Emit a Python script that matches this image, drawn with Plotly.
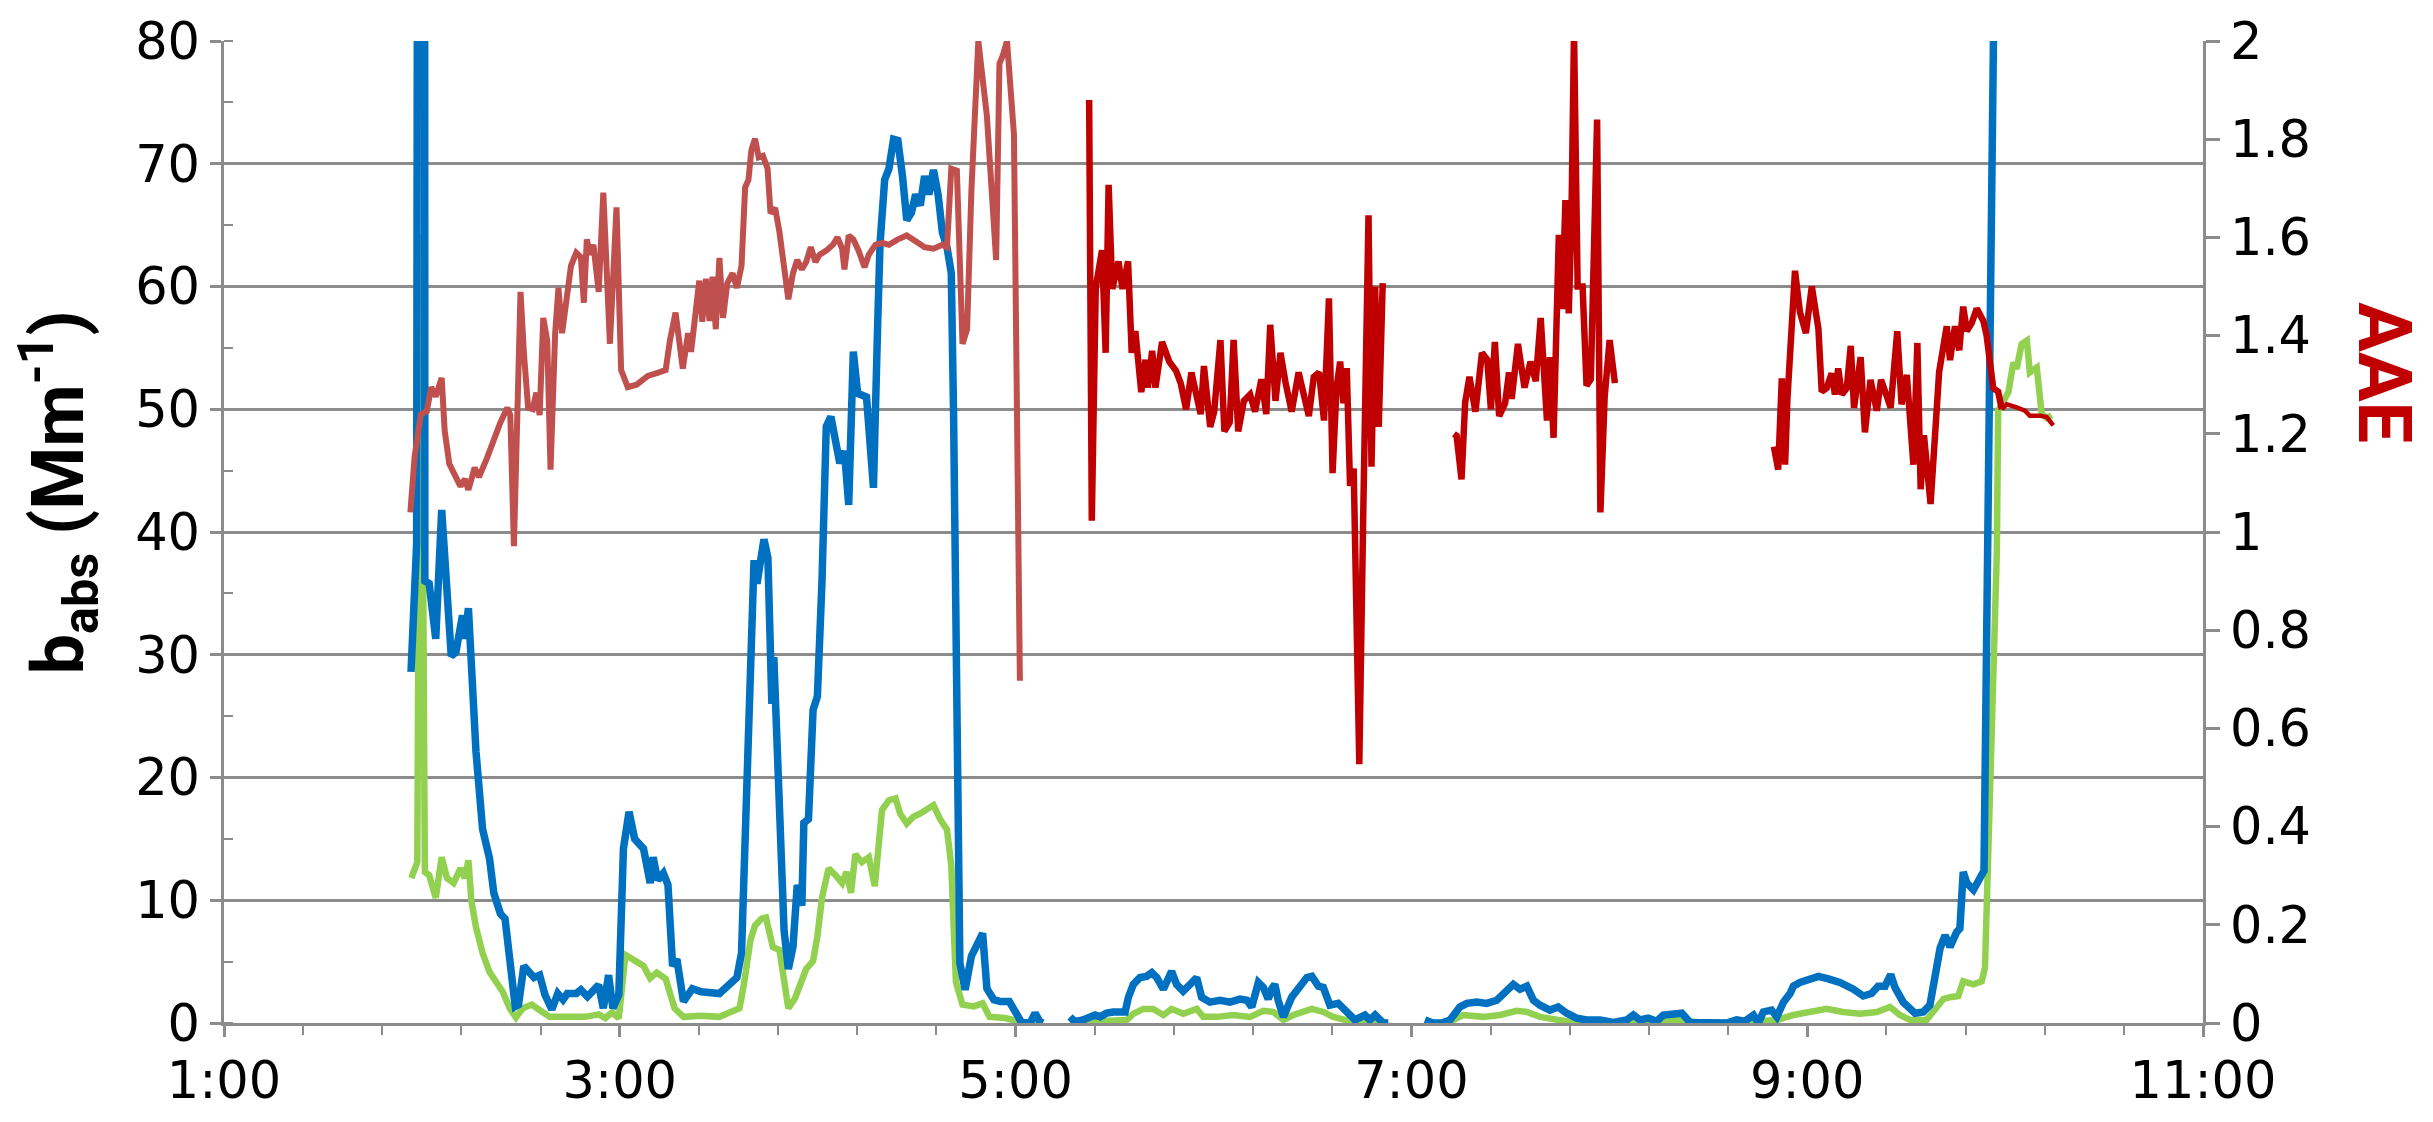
import plotly.graph_objects as go

# Clock time in minutes after midnight; None marks a break in the record.
blue_t = [116.7, 118.4, 118.8, 120.8, 120.9, 122.2, 124.2, 126.0, 128.9, 130.3, 132.3, 133.0, 134.1, 135.0,
          136.4, 138.4, 140.5, 141.8, 143.8, 145.2, 147.2, 148.3, 149.3, 150.9, 152.7, 154.0, 155.7, 157.3,
          159.4, 161.2, 162.8, 164.1, 166.8, 168.2, 170.2, 172.0, 173.6, 175.0, 176.6, 177.9, 179.7, 181.1,
          182.8, 184.5, 187.2, 189.2, 190.1, 191.5, 193.2, 194.6, 196.0, 197.3, 199.3, 202.0, 204.7, 210.2,
          212.2, 214.2, 215.5, 216.9, 218.3, 219.6, 220.7, 221.6, 222.5, 223.7, 224.9, 226.1, 226.7, 228.4,
          229.8, 231.1, 232.5, 233.8, 235.2, 235.8, 237.2, 238.6, 239.9, 241.3, 242.6, 244.0, 246.7, 248.1,
          249.4, 250.8, 252.1, 254.8, 256.9, 258.2, 258.9, 260.3, 261.6, 263.0, 264.3, 265.7, 267.0, 268.4,
          269.7, 271.1, 272.4, 273.7, 275.1, 276.5, 277.8, 279.2, 280.5, 281.2, 281.9, 282.5, 283.1, 284.7,
          286.6, 290.0, 291.3, 293.4, 295.4, 298.1, 300.1, 301.8, 304.4, 305.9, 307.4, 308.3, None,
          316.5, 318.0, 320.4, 322.6, 324.1, 325.6, 327.6, 329.6, 333.2, 334.2, 335.7, 337.7, 339.7, 341.3,
          342.8, 344.8, 347.3, 348.8, 350.8, 352.9, 354.9, 356.4, 358.9, 362.0, 365.0, 368.0, 370.1, 371.6,
          373.6, 375.1, 376.6, 377.6, 378.6, 379.6, 381.2, 383.7, 386.2, 388.3, 389.8, 391.8, 393.3, 395.3,
          397.8, 400.4, 402.9, 405.9, 407.4, 409.0, 411.5, 413.0, None,
          424.1, 426.6, 429.2, 431.7, 434.7, 436.8, 439.8, 442.8, 445.9, 448.9, 450.9, 452.9, 455.0, 457.0,
          459.0, 462.0, 464.5, 467.1, 470.1, 473.1, 477.2, 481.2, 485.3, 487.3, 489.3, 491.8, 494.4, 496.4,
          499.4, 502.0, 504.5, 507.5, 512.6, 515.6, 518.6, 521.1, 523.7, 525.2, 526.7, 529.2, 530.8, 532.8,
          534.8, 535.8, 537.8, 540.8, 543.4, 546.4, 549.9, 554.0, 557.0, 559.5, 561.5, 563.6, 565.3, 566.6,
          569.1, 572.7, 575.2, 577.2, 578.2, 580.3, 581.8, 583.3, 585.3, 586.3, 587.3, 588.4, 590.4, 592.4,
          593.6, 597.1]
blue_v = [28.6, 39.0, 120.0, 120.0, 36.0, 35.8, 31.3, 41.8, 29.9, 30.2, 33.2, 31.3, 33.8, 28.7,
          22.1, 15.8, 13.4, 10.6, 8.9, 8.5, 3.9, 1.35, 1.5, 4.65, 4.1, 3.7, 3.9, 2.3,
          1.1, 2.4, 1.9, 2.4, 2.4, 2.7, 2.15, 2.7, 3.1, 1.2, 3.9, 1.2, 2.3, 14.2,
          17.2, 15.0, 14.2, 11.4, 13.5, 11.65, 12.2, 11.25, 4.65, 5.2, 1.75, 2.8, 2.55, 2.4,
          2.9, 3.35, 3.7, 5.7, 18.1, 30.6, 37.7, 35.8, 37.6, 39.4, 37.9, 26.0, 29.8, 18.1,
          7.55, 4.4, 6.2, 11.25, 9.55, 16.3, 16.6, 25.5, 26.6, 36.0, 48.6, 49.4, 45.6, 46.6,
          42.2, 54.7, 51.3, 51.0, 43.6, 57.1, 63.5, 68.7, 69.6, 72.0, 71.9, 69.0, 65.4, 66.0,
          67.5, 66.6, 69.0, 67.5, 69.5, 67.5, 64.4, 63.2, 61.1, 49.5, 35.3, 14.8, 4.9, 2.7,
          5.45, 7.3, 2.8, 1.9, 1.75, 1.75, 0.7, 0.05, 0.0, 0.8, 0.1, 0.0, None,
          0.5, 0.1, 0.25, 0.4, 0.65, 0.5, 0.8, 0.9, 0.9, 2.1, 3.15, 3.7, 3.8, 4.1,
          3.7, 2.75, 4.2, 3.15, 2.6, 3.15, 3.7, 2.1, 1.7, 1.85, 1.7, 1.95, 1.85, 1.3,
          3.3, 2.9, 1.95, 2.75, 3.15, 1.85, 0.5, 2.1, 3.0, 3.7, 3.8, 3.0, 2.9, 1.45,
          1.6, 0.8, 0.25, 0.65, 0.25, 0.65, 0.0, 0.0, None,
          0.25, 0.0, 0.0, 0.25, 1.3, 1.6, 1.7, 1.6, 1.85, 2.6, 3.15, 2.75, 3.0, 1.85,
          1.45, 1.05, 1.3, 0.8, 0.4, 0.25, 0.25, 0.05, 0.25, 0.65, 0.25, 0.4, 0.15, 0.65,
          0.8, 0.8, 0.05, 0.05, 0.0, 0.0, 0.25, 0.15, 0.65, 0.0, 0.9, 1.05, 0.5, 1.7,
          2.4, 3.0, 3.3, 3.5, 3.8, 3.6, 3.3, 2.75, 2.2, 2.4, 3.0, 3.0, 3.95, 2.9,
          1.7, 0.8, 0.9, 1.45, 3.15, 6.1, 7.15, 6.2, 7.4, 7.7, 12.3, 11.4, 10.85, 11.65,
          12.4, 95.0]

green_t = [116.8, 118.6, 119.5, 119.8, 120.9, 122.2, 124.2, 126.0, 127.6, 129.6, 131.7, 133.0, 134.1, 135.0,
           136.4, 138.4, 140.5, 142.5, 144.5, 146.6, 148.5, 150.6, 153.3, 156.0, 158.7, 164.1, 169.6, 173.6,
           175.6, 177.6, 179.7, 181.7, 184.5, 187.2, 189.2, 191.2, 193.9, 196.6, 199.3, 204.7, 210.2, 212.9,
           216.3, 217.6, 219.6, 221.0, 223.0, 224.3, 225.7, 226.4, 228.4, 229.8, 231.1, 233.1, 234.5, 236.5,
           238.6, 239.9, 241.3, 243.3, 245.4, 247.4, 248.7, 250.1, 251.4, 253.4, 255.5, 257.3, 259.5, 261.6,
           263.6, 265.0, 267.0, 269.0, 271.0, 273.1, 275.1, 277.1, 279.2, 280.5, 281.9, 283.9, 287.3, 290.0,
           292.1, 296.8, 302.2, 308.3, None,
           316.5, 325.6, 333.7, 335.7, 338.7, 341.7, 344.8, 347.3, 350.8, 354.9, 356.9, 361.0, 366.0, 371.1,
           375.1, 378.1, 381.2, 384.2, 389.8, 393.3, 396.3, 401.4, 406.4, 412.5, None,
           424.1, 429.7, 432.7, 435.7, 441.8, 446.9, 451.9, 455.0, 459.0, 464.0, 470.1, 477.2, 482.2, 487.3,
           492.3, 500.4, 503.5, 509.5, 517.6, 525.7, 530.8, 535.8, 540.8, 545.9, 550.9, 556.0, 561.1, 565.1,
           568.1, 571.2, 576.2, 578.2, 581.3, 583.3, 585.8, 587.3, 590.4, 592.9, 593.9, 597.5, 597.9, 599.5,
           601.0, 602.5, 603.5, 605.0, 606.6, 607.5, 609.6, 611.1, 612.6, 614.1]
green_v = [11.8, 13.1, 64.0, 64.0, 12.3, 12.05, 10.2, 13.5, 11.8, 11.4, 12.6, 11.8, 13.25, 9.95,
           7.8, 5.7, 4.15, 3.35, 2.55, 1.2, 0.45, 1.2, 1.5, 1.0, 0.5, 0.5, 0.5, 0.7,
           0.4, 0.85, 0.4, 5.55, 5.1, 4.65, 3.65, 4.1, 3.6, 1.2, 0.5, 0.6, 0.5, 0.85,
           1.2, 3.1, 6.75, 7.95, 8.5, 8.6, 7.3, 6.2, 5.95, 3.1, 1.2, 2.0, 3.1, 4.4,
           5.05, 7.05, 10.2, 12.6, 12.05, 11.4, 12.3, 10.6, 13.75, 13.1, 13.5, 11.15, 17.35, 18.15,
           18.3, 17.05, 16.25, 16.8, 17.05, 17.35, 17.75, 16.6, 15.75, 12.85, 3.35, 1.5, 1.35, 1.6,
           0.5, 0.4, 0.05, 0.05, None,
           0.05, 0.1, 0.25, 0.75, 1.15, 1.15, 0.65, 1.15, 0.75, 1.15, 0.5, 0.5, 0.65, 0.5,
           1.0, 0.9, 0.25, 0.65, 1.15, 0.9, 0.5, 0.15, 0.0, 0.0, None,
           0.0, 0.0, 0.25, 0.65, 0.5, 0.65, 1.0, 0.9, 0.5, 0.25, 0.0, 0.05, 0.0, 0.15,
           0.05, 0.25, 0.15, 0.0, 0.0, 0.15, 0.25, 0.65, 0.9, 1.15, 0.9, 0.75, 0.9, 1.3,
           0.65, 0.25, 0.25, 0.9, 1.95, 2.1, 2.2, 3.4, 3.15, 3.4, 4.5, 38.4, 49.9, 50.65,
           51.4, 53.8, 53.3, 55.3, 55.6, 53.0, 53.4, 49.6, 49.3, 49.5]

# Angstrom exponent, first part of the flight
aae1_t = [116.5, 117.8, 119.7, 121.5, 122.8, 124.2, 126.0, 126.9, 128.3, 130.3, 131.7, 133.0, 134.1, 136.0,
          137.3, 139.7, 141.8, 143.8, 145.9, 146.8, 147.9, 149.9, 150.9, 152.2, 153.6, 154.7, 155.7, 156.8,
          158.0, 159.0, 160.4, 161.4, 162.5, 163.9, 165.2, 166.8, 168.2, 169.1, 170.0, 170.9, 172.0, 173.6,
          175.0, 177.0, 179.0, 180.4, 182.4, 185.1, 188.5, 191.9, 193.9, 195.2, 196.9, 199.1, 200.7, 201.6,
          202.7, 204.1, 205.0, 206.1, 207.2, 208.1, 209.1, 210.2, 211.3, 212.6, 214.2, 215.5, 216.9, 218.0,
          219.0, 219.9, 221.0, 222.1, 223.4, 224.8, 225.7, 227.1, 228.4, 229.8, 231.1, 232.5, 233.8, 235.2,
          236.5, 237.9, 239.3, 240.6, 242.6, 244.6, 246.0, 247.4, 248.1, 249.4, 250.8, 252.4, 254.2, 255.5,
          257.5, 259.6, 261.6, 264.3, 267.0, 269.7, 272.4, 275.1, 277.8, 279.2, 280.5, 282.2, 283.9, 285.3,
          286.6, 288.7, 291.3, 294.1, 295.1, 296.1, 297.4, 299.5, 301.3]
aae1_v = [1.04, 1.154, 1.24, 1.246, 1.295, 1.276, 1.314, 1.207, 1.139, 1.108, 1.093, 1.108, 1.086, 1.131,
          1.112, 1.15, 1.192, 1.223, 1.253, 1.238, 0.971, 1.489, 1.367, 1.253, 1.25, 1.284, 1.238, 1.436,
          1.39, 1.127, 1.405, 1.497, 1.405, 1.47, 1.542, 1.569, 1.56, 1.467, 1.596, 1.565, 1.585, 1.489,
          1.691, 1.383, 1.661, 1.33, 1.295, 1.3, 1.318, 1.325, 1.33, 1.39, 1.447, 1.333, 1.405, 1.367,
          1.428, 1.512, 1.428, 1.516, 1.43, 1.52, 1.413, 1.558, 1.436, 1.507, 1.527, 1.497, 1.542, 1.702,
          1.717, 1.778, 1.801, 1.763, 1.766, 1.74, 1.649, 1.66, 1.611, 1.535, 1.474, 1.527, 1.554, 1.535,
          1.55, 1.58, 1.55, 1.565, 1.573, 1.585, 1.6, 1.577, 1.535, 1.604, 1.596, 1.573, 1.539, 1.565,
          1.585, 1.589, 1.585, 1.596, 1.604, 1.592, 1.58, 1.577, 1.585, 1.58, 1.74, 1.736, 1.383, 1.413,
          1.695, 2.0, 1.847, 1.554, 1.954, 1.97, 2.0, 1.81, 0.697]

# Angstrom exponent, later part of the flight
aae2_t = [322.3, 323.1, 324.3, 326.2, 327.3, 328.2, 329.3, 331.2, 332.4, 334.1, 335.2, 336.3, 338.1, 339.4,
          340.1, 341.4, 342.4, 344.4, 346.6, 348.6, 350.1, 351.7, 353.3, 354.8, 356.1, 357.1, 359.0, 360.2,
          362.1, 363.3, 364.9, 366.1, 367.5, 369.2, 371.1, 372.6, 374.5, 376.0, 377.2, 378.8, 380.3, 381.9,
          383.7, 385.8, 387.3, 388.9, 390.4, 392.0, 393.5, 395.0, 396.1, 397.3, 398.4, 399.4, 400.4, 401.4,
          402.5, 404.2, 405.4, 405.9, 407.0, 407.9, 409.0, 410.1, 411.3, None,
          432.9, 433.7, 435.2, 436.3, 437.6, 439.4, 441.4, 443.0, 444.1, 445.3, 446.6, 448.4, 449.6, 450.4,
          452.3, 454.3, 456.1, 457.7, 459.2, 461.1, 462.0, 463.1, 464.7, 465.7, 466.7, 467.7, 468.5, 469.3,
          470.4, 471.9, 473.1, 474.4, 476.3, 477.3, 478.6, 480.1, 481.7, None,
          529.9, 531.2, 532.3, 533.3, 534.0, 536.3, 537.8, 539.6, 541.4, 543.4, 544.4, 545.9, 547.4, 548.4,
          549.4, 550.5, 552.0, 553.2, 554.2, 555.2, 556.2, 557.5, 559.2, 561.1, 562.4, 564.1, 565.3, 567.3,
          568.6, 570.2, 572.2, 573.4, 574.4, 575.4, 577.4, 580.0, 582.3, 583.3, 584.8, 586.1, 587.3, 588.4,
          589.9, 591.4, 593.4, 594.4, 596.4, 597.9, 599.0]
aae2_v = [1.88, 1.023, 1.498, 1.574, 1.365, 1.707, 1.495, 1.551, 1.495, 1.551, 1.365, 1.409, 1.285, 1.351,
          1.294, 1.369, 1.294, 1.387, 1.347, 1.329, 1.302, 1.25, 1.325, 1.276, 1.24, 1.338, 1.214, 1.245,
          1.391, 1.205, 1.223, 1.391, 1.205, 1.267, 1.28, 1.245, 1.311, 1.24, 1.422, 1.267, 1.365, 1.302,
          1.245, 1.325, 1.276, 1.236, 1.316, 1.325, 1.227, 1.476, 1.12, 1.294, 1.347, 1.262, 1.334, 1.094,
          1.129, 0.527, 1.037, 1.25, 1.645, 1.133, 1.5, 1.214, 1.507, None,
          1.2, 1.196, 1.107, 1.264, 1.316, 1.245, 1.365, 1.351, 1.25, 1.387, 1.236, 1.262, 1.325, 1.271,
          1.383, 1.294, 1.347, 1.307, 1.436, 1.227, 1.356, 1.192, 1.605, 1.454, 1.676, 1.445, 1.63, 2.02,
          1.5, 1.5, 1.298, 1.311, 1.84, 1.04, 1.276, 1.391, 1.303, None,
          1.174, 1.127, 1.313, 1.137, 1.27, 1.532, 1.448, 1.405, 1.5, 1.414, 1.286, 1.293, 1.323, 1.28,
          1.333, 1.28, 1.293, 1.379, 1.253, 1.32, 1.356, 1.203, 1.31, 1.247, 1.31, 1.277, 1.253, 1.409,
          1.26, 1.32, 1.137, 1.385, 1.087, 1.197, 1.057, 1.326, 1.419, 1.35, 1.419, 1.37, 1.459, 1.409,
          1.426, 1.455, 1.43, 1.4, 1.293, 1.286, 1.25]

# Short tail of the AAE record after the last data block
aae_tail_t = [599.0, 600.5, 603.5, 606.0, 607.5, 610.6, 612.6, 614.6]
aae_tail_v = [1.25, 1.26, 1.254, 1.247, 1.237, 1.237, 1.234, 1.217]

x_ticks = [60, 180, 300, 420, 540, 660]
x_tick_text = ["1:00", "3:00", "5:00", "7:00", "9:00", "11:00"]

GRID = "#8c8c8c"
TICK_FONT = dict(family="DejaVu Sans", size=51, color="#000000")

fig = go.Figure()
fig.add_trace(go.Scatter(x=aae1_t, y=aae1_v, yaxis="y2", mode="lines",
                         line=dict(color="#C0504D", width=6), connectgaps=False))
fig.add_trace(go.Scatter(x=aae2_t, y=aae2_v, yaxis="y2", mode="lines",
                         line=dict(color="#C00000", width=6.5), connectgaps=False))
fig.add_trace(go.Scatter(x=aae_tail_t, y=aae_tail_v, yaxis="y2", mode="lines",
                         line=dict(color="#C00000", width=4.5)))
fig.add_trace(go.Scatter(x=green_t, y=green_v, mode="lines",
                         line=dict(color="#92D050", width=6.5), connectgaps=False))
fig.add_trace(go.Scatter(x=blue_t, y=blue_v, mode="lines",
                         line=dict(color="#0070C0", width=7.5), connectgaps=False))

fig.update_layout(
    width=2433, height=1122,
    margin=dict(l=224, r=230, t=38, b=79),
    paper_bgcolor="white", plot_bgcolor="white",
    showlegend=False,
    xaxis=dict(
        range=[60, 660], tickmode="array", tickvals=x_ticks, ticktext=x_tick_text,
        showgrid=False, zeroline=False, showline=True, linecolor=GRID, linewidth=2.5,
        ticks="outside", ticklen=11, tickwidth=2.5, tickcolor=GRID, tickfont=TICK_FONT,
        minor=dict(tick0=60, dtick=24, ticks="outside", ticklen=9, tickwidth=2, tickcolor=GRID),
    ),
    yaxis=dict(
        range=[0, 80], dtick=10, tick0=0,
        showgrid=True, gridcolor=GRID, gridwidth=2.5, zeroline=False,
        showline=True, linecolor=GRID, linewidth=2.5,
        ticks="outside", ticklen=11, tickwidth=2.5, tickcolor=GRID, tickfont=TICK_FONT,
        minor=dict(dtick=5, ticks="inside", ticklen=9, tickwidth=2, tickcolor=GRID, showgrid=False),
    ),
    yaxis2=dict(
        range=[0, 2], dtick=0.2, tick0=0, overlaying="y", side="right",
        showgrid=False, zeroline=False, showline=True, linecolor=GRID, linewidth=2.5,
        ticks="outside", ticklen=14, tickwidth=2.5, tickcolor=GRID, tickfont=TICK_FONT,
    ),
    annotations=[
        dict(text="<b>b<sub>abs</sub> (Mm<sup>-1</sup>)</b>", xref="paper", yref="paper",
             x=-0.084, y=0.54, xanchor="center", yanchor="middle", textangle=-90,
             showarrow=False,
             font=dict(family="Roboto, sans-serif", size=72, color="#000000")),
        dict(text="<b>AAE</b>", xref="paper", yref="paper",
             x=1.092, y=0.6627, xanchor="center", yanchor="middle", textangle=90,
             showarrow=False,
             font=dict(family="Roboto, sans-serif", size=74, color="#C00000")),
    ],
)

fig.write_html("out.html")
